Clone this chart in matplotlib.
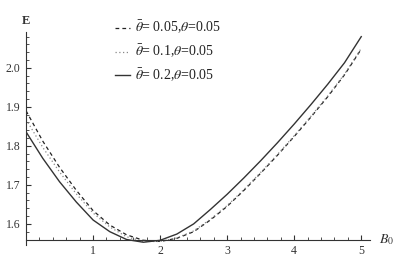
import matplotlib
matplotlib.use("Agg")
import matplotlib.pyplot as plt
from matplotlib.ticker import MultipleLocator

plt.rcParams['font.family'] = ['Liberation Serif', 'DejaVu Serif']
plt.rcParams['mathtext.fontset'] = 'stix'

# ---------------- data ----------------
B0 = [0.0, 0.25, 0.5, 0.75, 1.0, 1.25, 1.5, 1.75, 2.0, 2.25, 2.5,
      2.75, 3.0, 3.25, 3.5, 3.75, 4.0, 4.25, 4.5, 4.75, 5.0]

# theta_bar = 0.05, theta = 0.05 (dashed)
E_005 = [1.890, 1.812, 1.745, 1.686, 1.634, 1.597, 1.572, 1.558, 1.555, 1.563, 1.580,
         1.610, 1.645, 1.686, 1.730, 1.776, 1.824, 1.874, 1.926, 1.982, 2.048]
# theta_bar = 0.1, theta = 0.05 (dotted)
E_01 = [1.868, 1.796, 1.733, 1.677, 1.628, 1.592, 1.567, 1.555, 1.555, 1.564, 1.582,
        1.612, 1.647, 1.688, 1.732, 1.778, 1.826, 1.876, 1.928, 1.984, 2.050]
# theta_bar = 0.2, theta = 0.05 (solid)
E_02 = [1.836, 1.768, 1.708, 1.656, 1.610, 1.580, 1.560, 1.553, 1.558, 1.574, 1.600,
        1.637, 1.676, 1.718, 1.762, 1.808, 1.856, 1.906, 1.958, 2.013, 2.080]

labels = [r'$\bar{\theta}$= 0.05,$\theta$=0.05',
          r'$\bar{\theta}$= 0.1,$\theta$=0.05',
          r'$\bar{\theta}$= 0.2,$\theta$=0.05']

# ---------------- plot ----------------
fig = plt.figure(figsize=(4.07, 2.62), dpi=100)
ax = fig.add_axes([0.064, 0.065, 0.845, 0.813])

l1, = ax.plot(B0, E_005, color='#222222', lw=0.9, ls=(0, (3, 2.5)))
l2, = ax.plot(B0, E_01, color='#888888', lw=0.9, ls=(0, (1, 2)))
l3, = ax.plot(B0, E_02, color='#333333', lw=1.0, ls='-')

ax.set_xlim(0, 5.13)
ax.set_ylim(1.546, 2.092)

ax.spines['left'].set_position(('data', 0))
ax.spines['bottom'].set_position(('data', 1.559))
ax.spines['top'].set_visible(False)
ax.spines['right'].set_visible(False)
for s in ('left', 'bottom'):
    ax.spines[s].set_color('#333333')
    ax.spines[s].set_linewidth(0.8)

ax.xaxis.set_minor_locator(MultipleLocator(0.2))
ax.yaxis.set_minor_locator(MultipleLocator(0.02))
ax.set_xticks([1, 2, 3, 4, 5])
ax.set_xticklabels(['1', '2', '3', '4', '5'])
ax.set_yticks([1.6, 1.7, 1.8, 1.9, 2.0])
ax.set_yticklabels(['1.6', '1.7', '1.8', '1.9', '2.0'])

ax.tick_params(which='both', direction='in', color='#333333', labelsize=8.5,
               labelcolor='#333333')
ax.tick_params(which='major', length=3.5, width=0.8)
ax.tick_params(which='minor', length=2, width=0.6)
ax.tick_params(axis='x', pad=4)
ax.tick_params(axis='y', pad=4)

ax.text(0, 2.12, 'E', ha='center', va='center', fontsize=9, fontweight='bold',
        color='#333333', clip_on=False)
ax.text(5.38, 1.559, r'$B_0$', ha='center', va='center', fontsize=10,
        color='#333333', clip_on=False)

ax.legend([l1, l2, l3], labels, loc='upper left', bbox_to_anchor=(0.259, 1.06),
          frameon=False, fontsize=10, handlelength=1.1, handletextpad=0.35,
          labelspacing=0.48, borderpad=0, borderaxespad=0, labelcolor='#222222')

fig.savefig('out.png', dpi=100)
